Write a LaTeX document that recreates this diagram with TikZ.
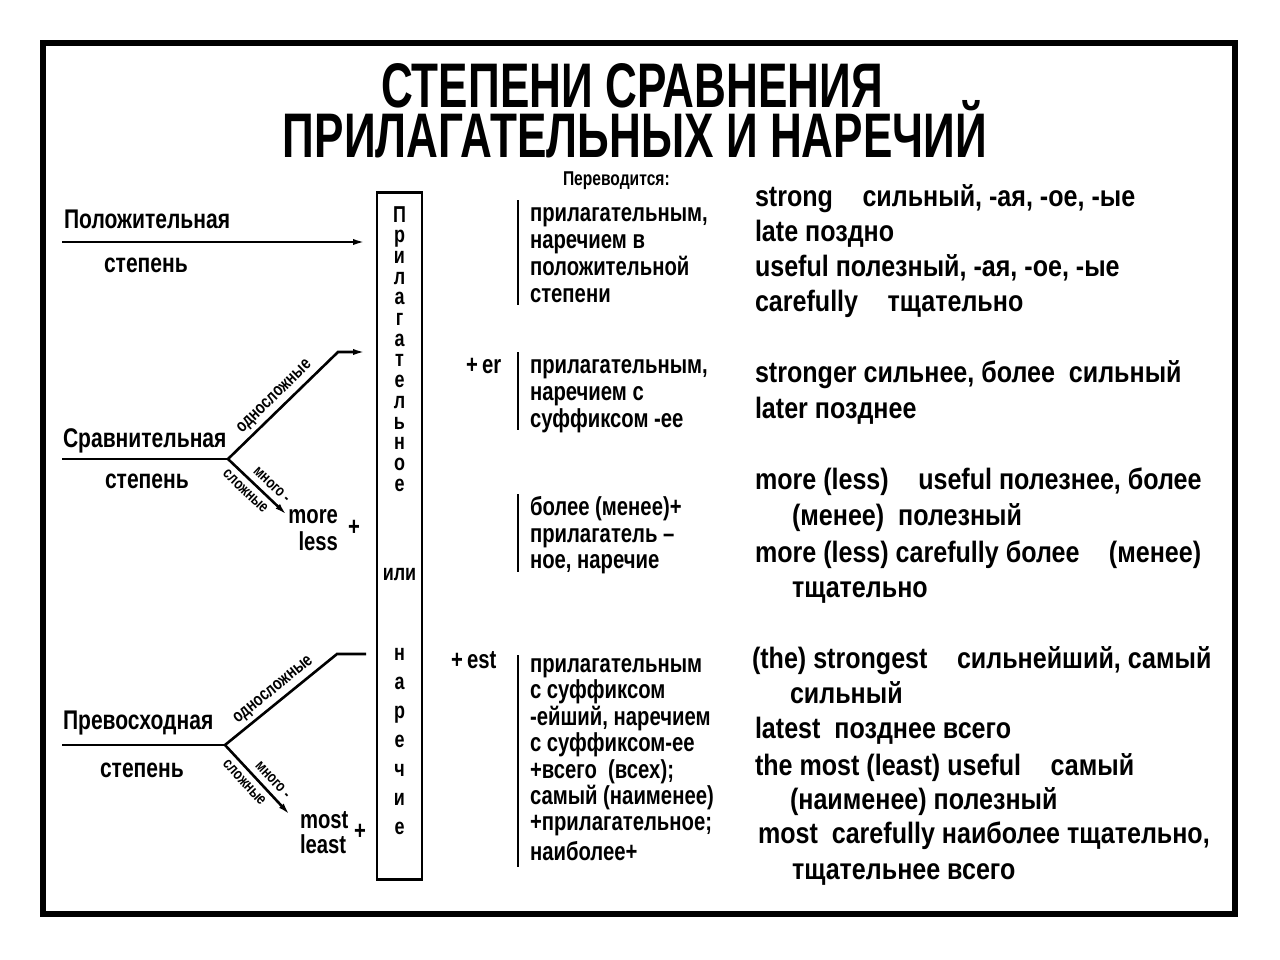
\documentclass[tikz,border=0pt]{standalone}
\usepackage{fontspec}
\setmainfont{Liberation Sans}[FakeStretch=0.78]
\newfontfamily\titlefont{Liberation Sans}[FakeStretch=0.70]
\newfontfamily\examplefont{Liberation Sans}[FakeStretch=0.85]
\usetikzlibrary{arrows.meta}
\newcommand{\fsz}[1]{\fontsize{#1}{#1}\selectfont}

\begin{document}
\begin{tikzpicture}[x=1pt,y=-1pt,
  every node/.style={inner sep=0pt, outer sep=0pt},
  heading/.style={font=\titlefont\bfseries\fsz{63}, anchor=base},
  degree/.style={font=\bfseries\fsz{27}, anchor=base west},
  branchlabel/.style={font=\bfseries\fsz{18}, sloped},
  tinylabel/.style={font=\bfseries\fsz{16}, sloped},
  boxletter/.style={font=\bfseries\fsz{23}, anchor=base},
  operand/.style={font=\bfseries\fsz{26}},
  transl/.style={font=\bfseries\fsz{26}, anchor=base west},
  example/.style={font=\examplefont\bfseries\fsz{29.5}, anchor=base west},
  stem/.style={line width=2.6pt},
  pointer/.style={line width=2.6pt, -{Latex[length=14pt,width=6pt]}},
  bracket/.style={line width=2pt},
]
\useasboundingbox (0,0) rectangle (1280,959);
\fill[white] (0,0) rectangle (1280,959);

% outer frame
\draw[line width=6pt] (43,43) rectangle (1235,914);

% heading
\node[heading] (title1) at (632,107) {СТЕПЕНИ СРАВНЕНИЯ};
\node[heading] (title2) at (635,157) {ПРИЛАГАТЕЛЬНЫХ И НАРЕЧИЙ};

% central column: "прилагательное или наречие"
\node[draw, line width=2.5pt, minimum width=45pt, minimum height=687pt] (wordbox) at (399.5,536) {};
\foreach \ch [count=\k from 0] in {П,р,и,л,а,г,а,т,е,л,ь,н,о,е}
  \node[boxletter] (adj-\k) at (399.5,{222+20.7*\k}) {\ch};
\node[boxletter] (or) at (399.5,580) {или};
\foreach \ch [count=\k from 0] in {н,а,р,е,ч,и,е}
  \node[boxletter] (adv-\k) at (399.5,{660+29*\k}) {\ch};

% positive degree
\node[degree] (pos) at (64,228) {Положительная};
\node[degree] (posdeg) at (104,272) {степень};
\coordinate (pos-in) at (62,242);
\coordinate (pos-out) at (367,242);
\draw[pointer] (pos-in) -- (pos-out);

% comparative degree
\node[degree] (comp) at (63,447) {Сравнительная};
\node[degree] (compdeg) at (105,488) {степень};
\coordinate (comp-in) at (62,459);
\coordinate (comp-fork) at (228,459);
\coordinate (comp-bend) at (338,352);
\coordinate (comp-out) at (367,352);
\coordinate (comp-low) at (288,516);
\draw[stem] (comp-in) -- (comp-fork);
\draw[pointer] (comp-fork) -- node[branchlabel, above=5pt, pos=0.5] {односложные} (comp-bend) -- (comp-out);
\draw[pointer] (comp-fork) -- node[tinylabel, above=7pt, pos=0.6] {много -}
  node[tinylabel, below=7pt, pos=0.42] {сложные} (comp-low);
\node[operand, anchor=base east] (more) at (338,523) {more};
\node[operand, anchor=base east] (less) at (338,550) {less};
\node[operand] (comp-plus) at (354,528) {+};

% superlative degree
\node[degree] (sup) at (63,729) {Превосходная};
\node[degree] (supdeg) at (100,777) {степень};
\coordinate (sup-in) at (62,745);
\coordinate (sup-fork) at (225,745);
\coordinate (sup-bend) at (337,654);
\coordinate (sup-out) at (366,654);
\coordinate (sup-low) at (291,816);
\draw[stem] (sup-in) -- (sup-fork);
\draw[stem] (sup-fork) -- node[branchlabel, above=5pt, pos=0.5] {односложные} (sup-bend) -- (sup-out);
\draw[pointer] (sup-fork) -- node[tinylabel, above=7pt, pos=0.6] {много -}
  node[tinylabel, below=7pt, pos=0.42] {сложные} (sup-low);
\node[operand, anchor=base west] (most) at (300,828) {most};
\node[operand, anchor=base west] (least) at (300,853) {least};
\node[operand] (sup-plus) at (360,832) {+};

% suffixes
\node[operand, anchor=base west] (suf-er) at (466,373) {+\,er};
\node[operand, anchor=base west] (suf-est) at (451,668) {+\,est};

% how it is translated
\node[font=\bfseries\fsz{20}, anchor=base west] (transhead) at (563,185) {Переводится:};

\coordinate (br1-top) at (518,200); \coordinate (br1-bot) at (518,305);
\draw[bracket] (br1-top) -- (br1-bot);
\node[transl] (t1a) at (530,221) {прилагательным,};
\node[transl] (t1b) at (530,248) {наречием в};
\node[transl] (t1c) at (530,275) {положительной};
\node[transl] (t1d) at (530,302) {степени};

\coordinate (br2-top) at (518,352); \coordinate (br2-bot) at (518,430);
\draw[bracket] (br2-top) -- (br2-bot);
\node[transl] (t2a) at (530,373) {прилагательным,};
\node[transl] (t2b) at (530,400) {наречием с};
\node[transl] (t2c) at (530,427) {суффиксом -ее};

\coordinate (br3-top) at (518,494); \coordinate (br3-bot) at (518,572);
\draw[bracket] (br3-top) -- (br3-bot);
\node[transl] (t3a) at (530,515) {более (менее)+};
\node[transl] (t3b) at (530,542) {прилагатель –};
\node[transl] (t3c) at (530,568) {ное, наречие};

\coordinate (br4-top) at (518,655); \coordinate (br4-bot) at (518,867);
\draw[bracket] (br4-top) -- (br4-bot);
\node[transl] (t4a) at (530,672) {прилагательным};
\node[transl] (t4b) at (530,698) {с суффиксом};
\node[transl] (t4c) at (530,725) {-ейший, наречием};
\node[transl] (t4d) at (530,751) {с суффиксом-ее};
\node[transl] (t4e) at (530,778) {+всего\ \ (всех);};
\node[transl] (t4f) at (530,804) {самый (наименее)};
\node[transl] (t4g) at (530,830) {+прилагательное;};
\node[transl] (t4h) at (530,860) {наиболее+};

% examples
\node[example] (e1) at (755,206) {strong\quad сильный, -ая, -ое, -ые};
\node[example] (e2) at (755,241) {late поздно};
\node[example] (e3) at (755,276) {useful полезный, -ая, -ое, -ые};
\node[example] (e4) at (755,311) {carefully\quad тщательно};

\node[example] (e5) at (755,382) {stronger сильнее, более\ \ сильный};
\node[example] (e6) at (755,418) {later позднее};

\node[example] (e7) at (755,489) {more (less)\quad useful полезнее, более};
\node[example] (e8) at (792,525) {(менее)\ \ полезный};
\node[example] (e9) at (755,562) {more (less) carefully более\quad (менее)};
\node[example] (e10) at (792,597) {тщательно};

\node[example] (e11) at (752,668) {(the) strongest\quad сильнейший, самый};
\node[example] (e12) at (790,703) {сильный};
\node[example] (e13) at (755,738) {latest\ \ позднее всего};
\node[example] (e14) at (755,775) {the most (least) useful\quad самый};
\node[example] (e15) at (790,809) {(наименее) полезный};
\node[example] (e16) at (758,843) {most\ \ carefully наиболее тщательно,};
\node[example] (e17) at (792,879) {тщательнее всего};
\end{tikzpicture}
\end{document}
